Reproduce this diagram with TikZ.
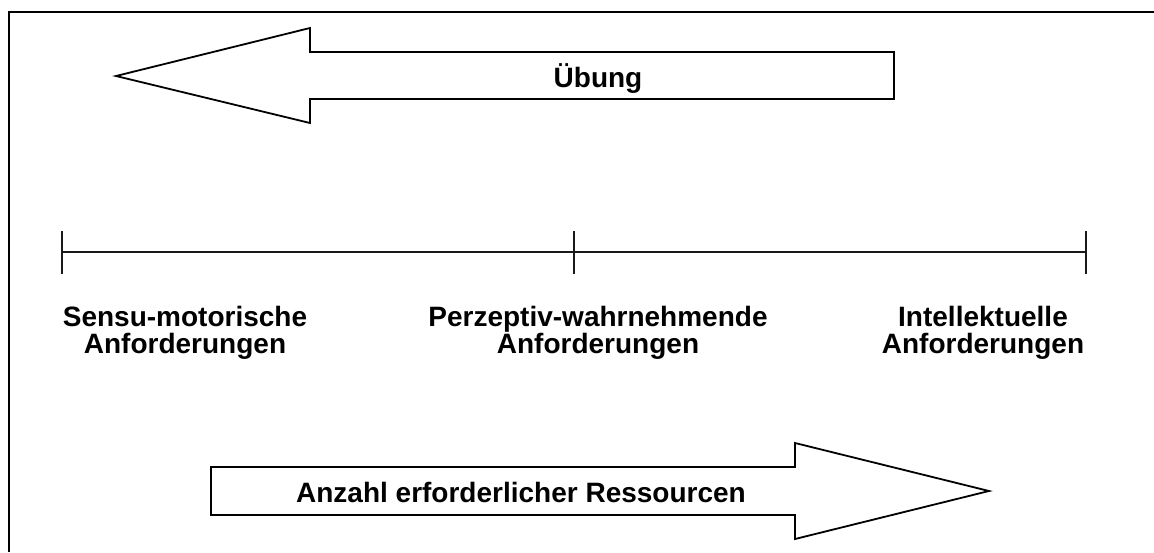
\documentclass[tikz,border=0pt]{standalone}
\usepackage{fontspec}
\setmainfont{Liberation Sans}
\begin{document}
\begin{tikzpicture}[x=1pt,y=-1pt,
  outline/.style={draw=black,line width=1.8pt,line join=miter},
  scaleline/.style={draw=black!90,line width=2pt},
  label/.style={font=\fontsize{28}{27}\selectfont\bfseries,align=center,inner sep=0pt,anchor=base}]
\useasboundingbox (0,0) rectangle (1154,552);
% open frame: left and top edges only
\draw[line width=2pt] (9,552) -- (9,12) -- (1154,12);
% upper block arrow pointing left
\draw[outline] (116,76) -- (310,28) -- (310,52) -- (894,52) -- (894,99)
  -- (310,99) -- (310,123) -- cycle;
\node[label] (uebung) at (598,87) {Übung};
% scale with three ticks
\coordinate (t1) at (62,252);
\coordinate (t2) at (574,252);
\coordinate (t3) at (1086,252);
\draw[scaleline] (t1) -- (t2) -- (t3);
\foreach \t in {t1,t2,t3}
  \draw[scaleline] ([yshift=-22pt]\t) -- ([yshift=21pt]\t);
% labels under the scale (base = baseline of the last line)
\node[label] (sensu) at (185,353) {Sensu-motorische\\Anforderungen};
\node[label] (perz) at (598,353) {Perzeptiv-wahrnehmende\\Anforderungen};
\node[label] (intel) at (983,353) {Intellektuelle\\Anforderungen};
% lower block arrow pointing right
\draw[outline] (211,467) -- (795,467) -- (795,443) -- (989,491) -- (795,539)
  -- (795,515) -- (211,515) -- cycle;
\node[label] (anzahl) at (521,502) {Anzahl erforderlicher Ressourcen};
\end{tikzpicture}
\end{document}
